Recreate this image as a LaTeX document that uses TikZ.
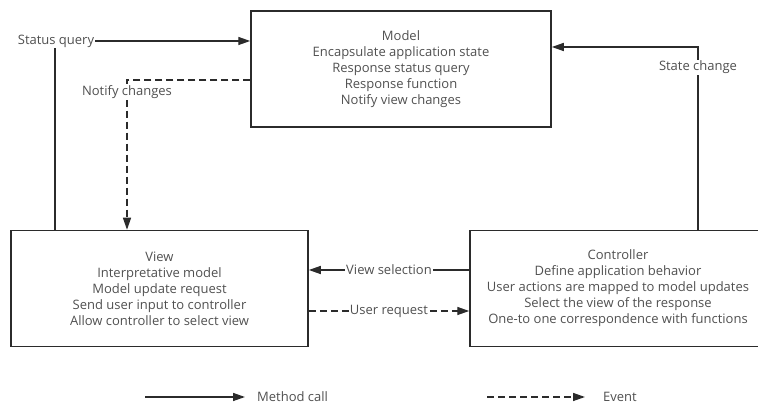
\documentclass[tikz,border=0pt]{standalone}
\usepackage{fontspec}
\setmainfont{Open Sans}
\usetikzlibrary{positioning,calc,arrows.meta}
\definecolor{inkline}{HTML}{2B2B2B}
\definecolor{inktext}{HTML}{505050}

\begin{document}
\begin{tikzpicture}[x=1pt, y=1pt,
    box/.style={draw=inkline, line width=1.5pt, rectangle, minimum width=300pt, minimum height=116pt, align=center, text=inktext, font=\fontsize{13}{16}\selectfont},
    call/.style={draw=inkline, line width=1.4pt, -{Triangle[length=12pt,width=8pt]}},
    event/.style={call, dash pattern=on 7pt off 4pt},
    lbl/.style={fill=white, inner sep=1pt, text=inktext, font=\fontsize{13}{15}\selectfont}]
    \useasboundingbox (0,0) rectangle (758,406);

    \node [box] (model) at (401,337) {Model\\Encapsulate application state\\Response status query\\Response function\\Notify view changes};

    \node [box, minimum width=297pt] (view) at (159.5,117.5) {View\\Interpretative model\\Model update request\\Send user input to controller\\Allow controller to select view};

    \node [box, minimum width=296pt] (ctrl) at (618,117.5) {Controller\\Define application behavior\\User actions are mapped to model updates\\Select the view of the response\\One-to one correspondence with functions};

    % Connections
    \coordinate (query) at (55,365);
    \draw [call] (view.north -| query) -- (query) node[lbl, xshift=1pt] (querylbl) {Status query} -- (query -| model.west);

    \coordinate (notify) at (127,326);
    \draw [event] (notify -| model.west) -- (notify) -- (notify |- view.north) node[pos=0.08, lbl] (notifylbl) {Notify changes};

    \coordinate (change) at (698,359);
    \draw [call] (ctrl.north -| change) -- (change) node[pos=0.89, lbl] (changelbl) {State change} -- (change -| model.east);

    \draw [call] (ctrl.west |- 0,136) -- (view.east |- 0,136) node[midway, lbl] (selectlbl) {View selection};
    \draw [event] (view.east |- 0,95) -- (ctrl.west |- 0,95) node[midway, lbl] (requestlbl) {User request};

    % Legend
    \coordinate (callA) at (145,9);
    \coordinate (callB) at (245,9);
    \draw [call] (callA) -- (callB);
    \node [lbl, anchor=west] (calllbl) at (256,9) {Method call};

    \coordinate (eventA) at (487,9);
    \coordinate (eventB) at (585,9);
    \draw [event] (eventA) -- (eventB);
    \node [lbl, anchor=west] (eventlbl) at (602,9) {Event};
\end{tikzpicture}
\end{document}
